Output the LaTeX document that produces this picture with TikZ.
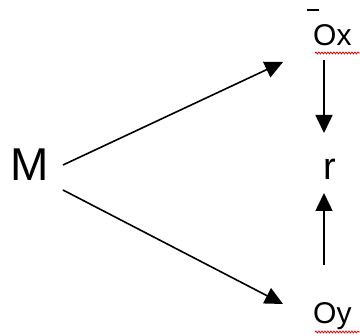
\documentclass[tikz,border=0pt]{standalone}
\usepackage{fontspec}
\newfontfamily\diagfont{Liberation Sans}
\usetikzlibrary{arrows.meta}
\usetikzlibrary{decorations.pathmorphing}
\tikzset{
	letter/.style={inner sep=0pt, anchor=base west, text=black},
	big/.style={letter, font=\diagfont\fontsize{46}{50}\selectfont},
	mid/.style={letter, font=\diagfont\fontsize{38}{42}\selectfont},
	small/.style={letter, font=\diagfont\fontsize{30}{32}\selectfont},
	% red squiggle under the words
	squiggle/.style={red!85!black, line width=0.8pt, decorate, decoration={snake, amplitude=0.9pt, segment length=3pt}},
}

\begin{document}
\begin{tikzpicture}[x=1pt, y=-1pt]
	\useasboundingbox (0,0) rectangle (360,336);
	
	\node (m) [big] at (10,181) {M};
	\node (ox) [small] at (313,46) {Ox};
	\node (oy) [small] at (313,324) {Oy};
	\node (r) [mid] at (323,180) {r};
	
	\coordinate (m-up) at (63,165);
	\coordinate (m-down) at (63,190);
	\coordinate (ox-tip) at (283,62);
	\coordinate (oy-tip) at (283,304);
	\coordinate (ox-foot) at (324,60);
	\coordinate (r-top) at (324,133);
	\coordinate (r-bottom) at (324,193);
	\coordinate (oy-head) at (324,265);
	
	\begin{scope}[line width=1.6pt, black, ->, >={Triangle[length=18pt, width=17pt]}]
		\draw (m-up) -- (ox-tip);
		\draw (m-down) -- (oy-tip);
		\draw (ox-foot) -- (r-top);
		\draw (oy-head) -- (r-bottom);
	\end{scope}
	
	\draw[line width=1.5pt] (307,10) -- (319,10);
	\draw[squiggle] (315,53) -- (360,53);
	\draw[squiggle] (315,332) -- (360,332);
	
\end{tikzpicture}
\end{document}
